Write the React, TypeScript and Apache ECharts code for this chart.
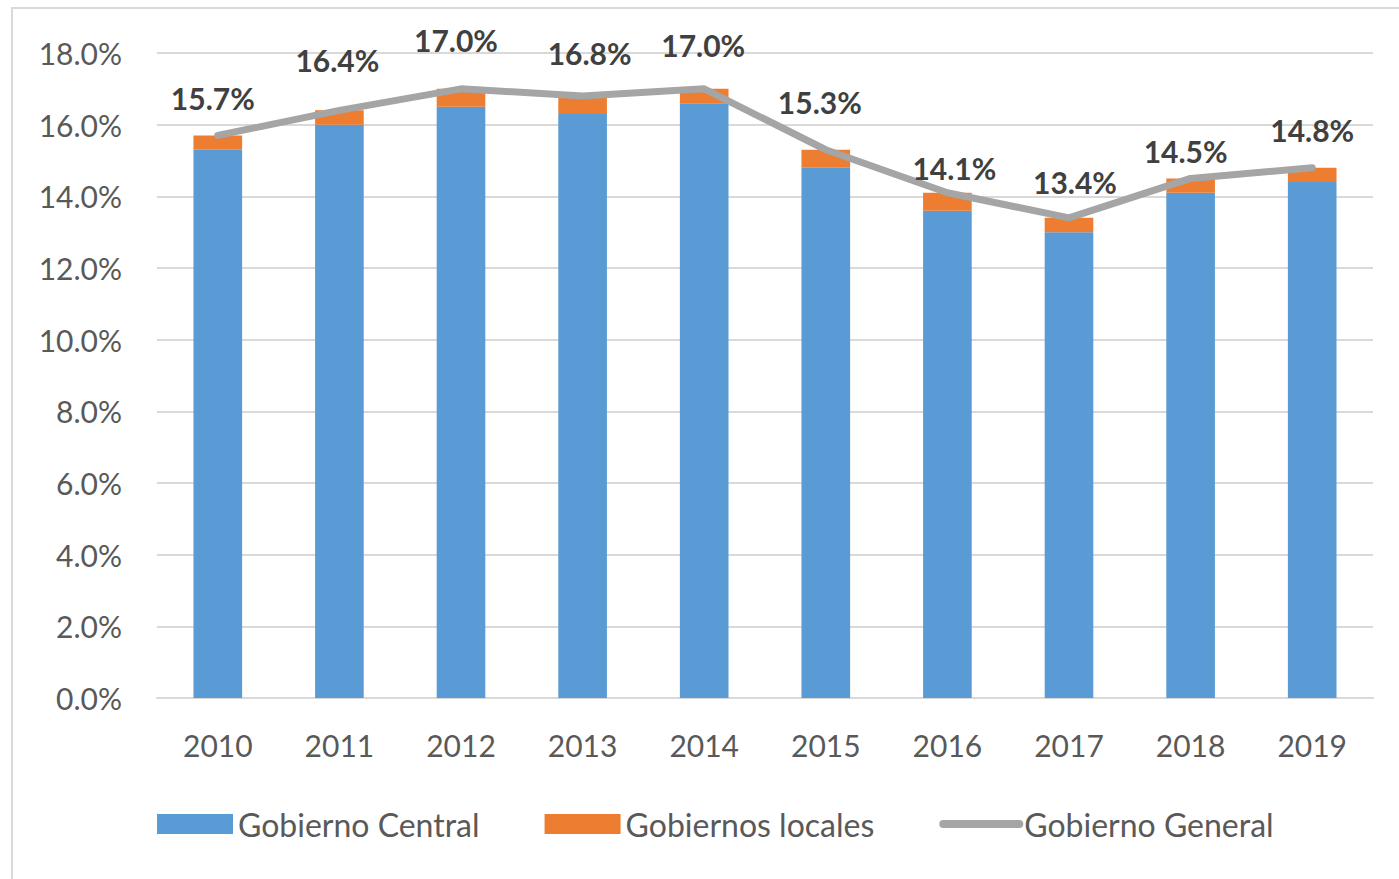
import React, { useEffect, useRef } from "react";
import * as echarts from "echarts";

const years = ["2010", "2011", "2012", "2013", "2014", "2015", "2016", "2017", "2018", "2019"];
const central = [15.3, 16.0, 16.5, 16.3, 16.6, 14.8, 13.6, 13.0, 14.1, 14.4];
const local = [0.4, 0.4, 0.5, 0.5, 0.4, 0.5, 0.5, 0.4, 0.4, 0.4];
const general = [15.7, 16.4, 17.0, 16.8, 17.0, 15.3, 14.1, 13.4, 14.5, 14.8];
const seriesNames = ["Gobierno Central", "Gobiernos locales", "Gobierno General"];

// label placement tweaks (style, not data)
const labelOffsets: [number, number][] = [
  [-5, -17], [-2, -30], [-5, -28], [7, -23], [-1, -23],
  [-6, -27], [7, -4], [6, -15], [-5, -7], [0, -17],
];

const FONT = "Lato";
const TEXT = "#595959";

export default function App() {
  const ref = useRef<HTMLDivElement>(null);
  useEffect(() => {
    if (!ref.current) return;
    const chart = echarts.init(ref.current, null, { renderer: "svg" });
    chart.setOption({
      animation: false,
      backgroundColor: "#ffffff",
      textStyle: { fontFamily: FONT },
      graphic: [
        {
          type: "rect",
          shape: { x: 12, y: 8, width: 1400, height: 900 },
          style: { fill: "none", stroke: "#D9D9D9", lineWidth: 2 },
          silent: true,
          z: -10,
        },
      ],
      grid: { left: 157, right: 26, top: 53, bottom: 181, containLabel: false },
      legend: {
        left: 157,
        top: 808,
        padding: 0,
        itemWidth: 76,
        itemHeight: 20,
        itemGap: 65,
        textStyle: { fontFamily: FONT, fontSize: 32, color: TEXT },
        data: [
          { name: seriesNames[0], icon: "rect" },
          { name: seriesNames[1], icon: "rect" },
          {
            name: seriesNames[2],
            itemStyle: { opacity: 0 },
            lineStyle: { width: 8, color: "#A5A5A5", cap: "round" },
          },
        ],
      },
      xAxis: {
        type: "category",
        data: years,
        axisLine: { lineStyle: { color: "#D9D9D9", width: 2 } },
        axisTick: { show: false },
        axisLabel: { fontFamily: FONT, fontSize: 30, color: TEXT, margin: 32 },
      },
      yAxis: {
        type: "value",
        min: 0,
        max: 18,
        interval: 2,
        axisLine: { show: false },
        axisTick: { show: false },
        splitLine: { lineStyle: { color: "#D9D9D9", width: 2 } },
        axisLabel: {
          fontFamily: FONT,
          fontSize: 30,
          color: TEXT,
          margin: 35,
          verticalAlign: "middle",
          padding: [0, 0, 4, 0],
          formatter: (v: number) => v.toFixed(1) + "%",
        },
      },
      series: [
        {
          name: seriesNames[0],
          type: "bar",
          stack: "total",
          data: central,
          barWidth: "40%",
          itemStyle: { color: "#5B9BD5" },
        },
        {
          name: seriesNames[1],
          type: "bar",
          stack: "total",
          data: local,
          barWidth: "40%",
          itemStyle: { color: "#ED7D31" },
        },
        {
          name: seriesNames[2],
          type: "line",
          z: 5,
          symbol: "circle",
          symbolSize: 1,
          showSymbol: true,
          itemStyle: { color: "#A5A5A5" },
          lineStyle: { color: "#A5A5A5", width: 7, cap: "round", join: "round" },
          data: general.map((v, i) => ({
            value: v,
            label: { offset: labelOffsets[i] },
          })),
          label: {
            show: true,
            position: "top",
            fontFamily: FONT,
            fontSize: 30,
            fontWeight: "bold",
            color: "#404040",
            formatter: (p: any) => Number(p.value).toFixed(1) + "%",
          },
        },
      ],
    });
    return () => chart.dispose();
  }, []);
  return (
    <div
      ref={ref}
      style={{ position: "fixed", left: 0, top: 0, width: 1399, height: 879 }}
    />
  );
}
